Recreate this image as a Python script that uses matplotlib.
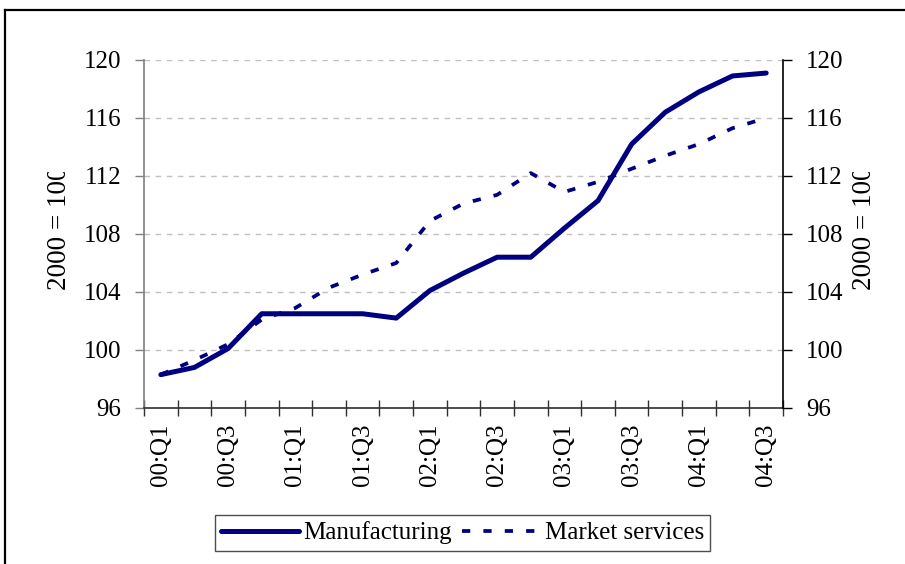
import matplotlib
matplotlib.use("Agg")
import matplotlib.pyplot as plt
from matplotlib.lines import Line2D
from matplotlib.transforms import Bbox, TransformedBbox

quarters = ["00:Q1", "00:Q2", "00:Q3", "00:Q4",
            "01:Q1", "01:Q2", "01:Q3", "01:Q4",
            "02:Q1", "02:Q2", "02:Q3", "02:Q4",
            "03:Q1", "03:Q2", "03:Q3", "03:Q4",
            "04:Q1", "04:Q2", "04:Q3"]
manufacturing = [98.3, 98.8, 100.1, 102.5, 102.5, 102.5, 102.5, 102.2, 104.1, 105.3,
                 106.4, 106.4, 108.4, 110.3, 114.2, 116.4, 117.8, 118.9, 119.1]
market_services = [98.3, 99.3, 100.4, 102.1, 102.9, 104.3, 105.2, 106.0, 108.9, 110.1,
                   110.7, 112.2, 110.9, 111.6, 112.5, 113.4, 114.2, 115.3, 116.0]
y_ticks = [96, 100, 104, 108, 112, 116, 120]
y_label = "2000 = 100"

plt.rcParams['font.family'] = ['Liberation Serif', 'DejaVu Serif']
FS = 18
NAVY = "#000080"

W, H = 905, 564
fig = plt.figure(figsize=(W / 100, H / 100), dpi=100)
ax = fig.add_axes([144 / W, 1 - 408 / H, (783 - 144) / W, (408 - 60) / H])

x = list(range(len(quarters)))
ax.plot(x, manufacturing, color=NAVY, lw=3.6, solid_capstyle='round',
        solid_joinstyle='round', label="Manufacturing")
ax.plot(x, market_services, color=NAVY, lw=2.7, linestyle=(0, (2.2, 3.5)),
        dash_capstyle='butt', label="Market services")

ax.set_xlim(-0.5, len(quarters) - 0.5)
ax.set_ylim(y_ticks[0], y_ticks[-1])
ax.set_yticks(y_ticks)
ax.yaxis.grid(True, color="#c0c0c0", linestyle=(0, (4, 4)), linewidth=1.0)
ax.set_axisbelow(True)

# x axis: tick marks at category boundaries, labels every second category
ax.set_xticks([i - 0.5 for i in range(len(quarters) + 1)])
ax.set_xticklabels([])
ax.set_xticks(x[::2], minor=True)
ax.set_xticklabels(quarters[::2], minor=True, rotation=90, fontsize=FS)
ax.tick_params(axis='x', which='major', direction='inout', length=11, width=1, color="#303030")
ax.tick_params(axis='x', which='minor', length=0, pad=11)

ax.tick_params(axis='y', which='major', direction='out', length=6.5, width=1,
               color="#808080", labelsize=FS, pad=10)

for s in ['top', 'right']:
    ax.spines[s].set_visible(False)
ax.spines['left'].set_color("#808080")
ax.spines['left'].set_linewidth(1.2)
ax.spines['bottom'].set_color("#303030")
ax.spines['bottom'].set_linewidth(1.2)

ax2 = ax.twinx()
ax2.set_ylim(y_ticks[0], y_ticks[-1])
ax2.set_yticks(y_ticks)
ax2.tick_params(axis='y', direction='out', length=6.5, width=1, color="black",
                labelsize=FS, pad=10)
for s in ['top', 'left', 'bottom']:
    ax2.spines[s].set_visible(False)
ax2.spines['right'].set_color("black")
ax2.spines['right'].set_linewidth(1.2)

# clipped y labels (as in the original)
clip = TransformedBbox(Bbox.from_extents(0, 0, 1, 1 - 172 / H), fig.transFigure)
for xc in (59, 864):
    t = fig.text(xc / W, 1 - 290 / H, y_label, rotation=90, ha='center', va='bottom',
                 fontsize=19.5)
    t.set_clip_box(clip)
    t.set_clip_on(True)

# legend
handles = [Line2D([], [], color=NAVY, lw=3.6, solid_capstyle='round'),
           Line2D([], [], color=NAVY, lw=2.7, linestyle=(0, (2.2, 3.5)))]
leg = fig.legend(handles, ["Manufacturing", "Market services"], ncol=2,
                 loc='center', bbox_to_anchor=(462.5 / W, 1 - 533 / H),
                 fontsize=FS, frameon=True, fancybox=False, handlelength=3.1,
                 handletextpad=0.2, columnspacing=0.4, borderpad=0.25,
                 borderaxespad=0)
leg.get_frame().set_edgecolor("#202020")
leg.get_frame().set_linewidth(1.0)

# outer frame (top and left edges)
fig.add_artist(Line2D([5 / W, 5 / W], [0, 1 - 10 / H], transform=fig.transFigure,
                      color='black', lw=1.6))
fig.add_artist(Line2D([5 / W, 1], [1 - 10 / H, 1 - 10 / H], transform=fig.transFigure,
                      color='black', lw=1.6))

fig.savefig("out.png", dpi=100)
